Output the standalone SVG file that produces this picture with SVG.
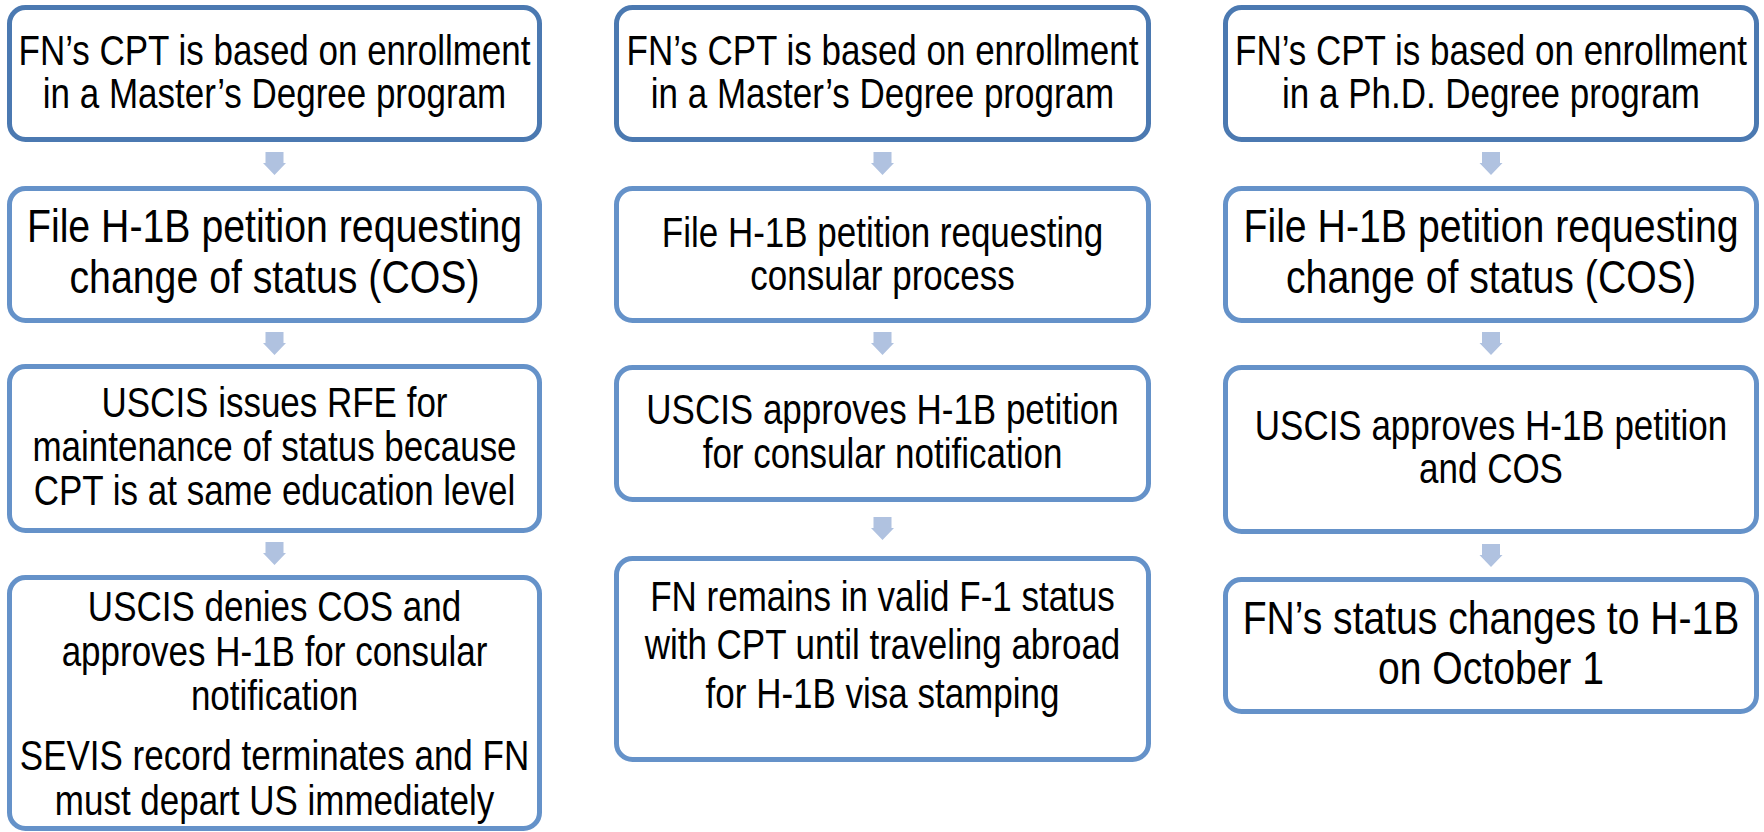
<svg xmlns="http://www.w3.org/2000/svg" width="1764" height="832" viewBox="0 0 1764 832">
<style>
.box{fill:#ffffff;stroke:#6592c9;stroke-width:5}
.top{stroke:#4b79b1}
.t{font-family:"Liberation Sans",Arial,sans-serif;font-size:42px;fill:#000;text-anchor:middle}
.big{font-size:46px}
.arr{fill:#b0c2e0}
</style>
<defs>
<polygon id="ar" points="-9,0 9,0 9,11 11.5,11 0,23 -11.5,11 -9,11"/>
</defs>
<rect width="1764" height="832" fill="#ffffff"/>
<g id="connectors">
<use href="#ar" class="arr" x="274.5" y="152"/>
<use href="#ar" class="arr" x="274.5" y="332"/>
<use href="#ar" class="arr" x="274.5" y="542"/>
<use href="#ar" class="arr" x="882.5" y="152"/>
<use href="#ar" class="arr" x="882.5" y="332"/>
<use href="#ar" class="arr" x="882.5" y="517"/>
<use href="#ar" class="arr" x="1491" y="152"/>
<use href="#ar" class="arr" x="1491" y="332"/>
<use href="#ar" class="arr" x="1491" y="544"/>
</g>
<g id="c1r1"><rect class="box top" x="9.5" y="7.5" width="530" height="132" rx="16"/>
<text class="t" transform="translate(274.5 0) scale(0.833 1)"><tspan x="0" y="65">FN’s CPT is based on enrollment</tspan><tspan x="0" y="108">in a Master’s Degree program</tspan></text></g>
<g id="c1r2"><rect class="box" x="9.5" y="188.5" width="530" height="132" rx="16"/>
<text class="t big" transform="translate(274.5 0) scale(0.853 1)"><tspan x="0" y="242">File H-1B petition requesting</tspan><tspan x="0" y="293">change of status (COS)</tspan></text></g>
<g id="c1r3"><rect class="box" x="9.5" y="366.5" width="530" height="164" rx="16"/>
<text class="t" transform="translate(274.5 0) scale(0.833 1)"><tspan x="0" y="417">USCIS issues RFE for</tspan><tspan x="0" y="461.5">maintenance of status because</tspan><tspan x="0" y="505.5">CPT is at same education level</tspan></text></g>
<g id="c1r4"><rect class="box" x="9.5" y="577.5" width="530" height="251" rx="16"/>
<text class="t" transform="translate(274.5 0) scale(0.833 1)"><tspan x="0" y="621.5">USCIS denies COS and</tspan><tspan x="0" y="666">approves H-1B for consular</tspan><tspan x="0" y="710">notification</tspan><tspan x="0" y="770">SEVIS record terminates and FN</tspan><tspan x="0" y="815">must depart US immediately</tspan></text></g>
<g id="c2r1"><rect class="box top" x="616.5" y="7.5" width="532" height="132" rx="16"/>
<text class="t" transform="translate(882.5 0) scale(0.833 1)"><tspan x="0" y="65">FN’s CPT is based on enrollment</tspan><tspan x="0" y="108">in a Master’s Degree program</tspan></text></g>
<g id="c2r2"><rect class="box" x="616.5" y="188.5" width="532" height="132" rx="16"/>
<text class="t" transform="translate(882.5 0) scale(0.833 1)"><tspan x="0" y="247">File H-1B petition requesting</tspan><tspan x="0" y="290">consular process</tspan></text></g>
<g id="c2r3"><rect class="box" x="616.5" y="367.5" width="532" height="132" rx="16"/>
<text class="t" transform="translate(882.5 0) scale(0.833 1)"><tspan x="0" y="424">USCIS approves H-1B petition</tspan><tspan x="0" y="468">for consular notification</tspan></text></g>
<g id="c2r4"><rect class="box" x="616.5" y="558.5" width="532" height="201" rx="16"/>
<text class="t" transform="translate(882.5 0) scale(0.833 1)"><tspan x="0" y="611">FN remains in valid F-1 status</tspan><tspan x="0" y="659.5">with CPT until traveling abroad</tspan><tspan x="0" y="708">for H-1B visa stamping</tspan></text></g>
<g id="c3r1"><rect class="box top" x="1225.5" y="7.5" width="531" height="132" rx="16"/>
<text class="t" transform="translate(1491 0) scale(0.833 1)"><tspan x="0" y="65">FN’s CPT is based on enrollment</tspan><tspan x="0" y="108">in a Ph.D. Degree program</tspan></text></g>
<g id="c3r2"><rect class="box" x="1225.5" y="188.5" width="531" height="132" rx="16"/>
<text class="t big" transform="translate(1491 0) scale(0.853 1)"><tspan x="0" y="242">File H-1B petition requesting</tspan><tspan x="0" y="293">change of status (COS)</tspan></text></g>
<g id="c3r3"><rect class="box" x="1225.5" y="367.5" width="531" height="164" rx="16"/>
<text class="t" transform="translate(1491 0) scale(0.833 1)"><tspan x="0" y="440">USCIS approves H-1B petition</tspan><tspan x="0" y="483">and COS</tspan></text></g>
<g id="c3r4"><rect class="box" x="1225.5" y="579.5" width="531" height="132" rx="16"/>
<text class="t big" transform="translate(1491 0) scale(0.85 1)"><tspan x="0" y="634">FN’s status changes to H-1B</tspan><tspan x="0" y="684">on October 1</tspan></text></g>
</svg>
